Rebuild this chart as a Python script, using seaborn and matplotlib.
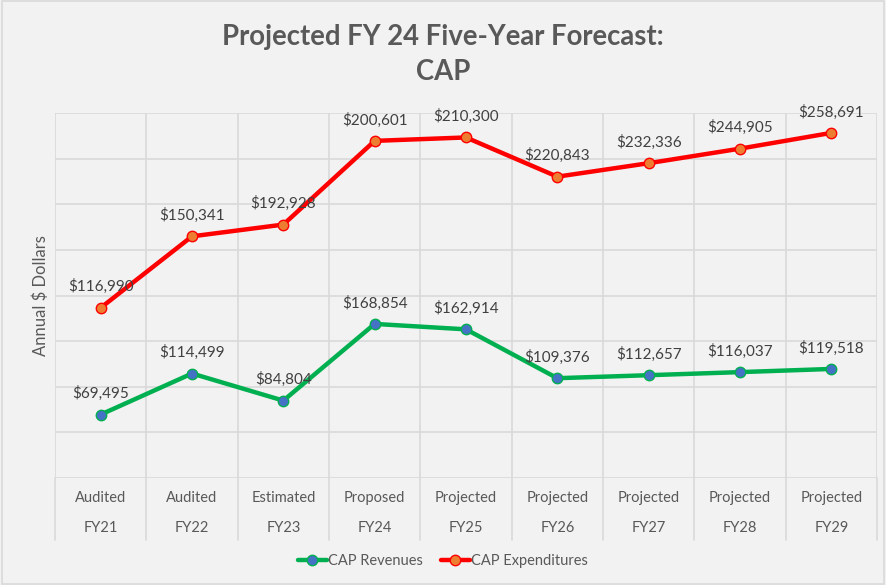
import numpy as np
import pandas as pd
import matplotlib
matplotlib.use("Agg")
import matplotlib.pyplot as plt
import matplotlib.transforms as mtrans
from matplotlib.lines import Line2D
import seaborn as sns

# ---- data ----
stages = ["Audited", "Audited", "Estimated", "Proposed", "Projected",
          "Projected", "Projected", "Projected", "Projected"]
years = ["FY21", "FY22", "FY23", "FY24", "FY25", "FY26", "FY27", "FY28", "FY29"]
revenues = [69495, 114499, 84804, 168854, 162914, 109376, 112657, 116037, 119518]
expenditures = [116990, 150341, 192928, 200601, 210300, 220843, 232336, 244905, 258691]
series_names = ["CAP Revenues", "CAP Expenditures"]

sns.set_theme(style="white")
plt.rcParams["font.family"] = ["Lato", "DejaVu Sans"]

BG = "#F2F2F2"
GRID = "#D9D9D9"
TXT = "#595959"
LBL = "#404040"

fig = plt.figure(figsize=(8.86, 5.85), dpi=100, facecolor=BG)
ax = fig.add_axes([55/886, 1-478/585, (877-55)/886, (478-113)/585])
ax.set_facecolor(BG)

# stacked line chart: expenditures plotted on top of revenues
x = np.arange(len(years))
rev = np.array(revenues, dtype=float)
exp_stacked = rev + np.array(expenditures, dtype=float)
df = pd.DataFrame({
    "x": np.concatenate([x, x]),
    "value": np.concatenate([rev, exp_stacked]),
    "series": [series_names[0]]*len(x) + [series_names[1]]*len(x),
})

line_cols = {series_names[0]: "#00B050", series_names[1]: "#FF0000"}
mark_cols = {series_names[0]: "#4472C4", series_names[1]: "#ED7D31"}
for name in series_names:
    sub = df[df["series"] == name]
    sns.lineplot(data=sub, x="x", y="value", ax=ax, color=line_cols[name],
                 linewidth=3.2, marker="o", markersize=7.5,
                 markerfacecolor=mark_cols[name], markeredgecolor=line_cols[name],
                 markeredgewidth=1.0, legend=False, zorder=3)

ax.set_xlim(-0.5, len(years) - 0.5)
ax.set_ylim(0, 400000)
ax.set_yticks(np.arange(0, 400001, 50000))
ax.set_yticklabels([])
ax.set_xticks(np.arange(-0.5, len(years), 1.0))
ax.set_xticklabels([])
ax.tick_params(length=0)
ax.grid(True, color=GRID, linewidth=1.2)
for s in ax.spines.values():
    s.set_visible(False)
ax.set_xlabel("")
ax.set_ylabel("Annual $ Dollars", color=TXT, fontsize=12, labelpad=0)
ax.yaxis.set_label_coords(-(55-49)/822, 0.5)

# gridlines extending into the category label area
trans = mtrans.blended_transform_factory(ax.transData, ax.transAxes)
for b in np.arange(-0.5, len(years), 1.0):
    ax.plot([b, b], [0, -(540-478)/365], transform=trans, color=GRID,
            linewidth=1.2, clip_on=False)

# category labels (two-level)
for i, (s, yv) in enumerate(zip(stages, years)):
    ax.text(i, -(498-478)/365, s, transform=trans, ha="center", va="center",
            color=TXT, fontsize=10.5)
    ax.text(i, -(528-478)/365, yv, transform=trans, ha="center", va="center",
            color=TXT, fontsize=10.5)

# data labels
for i in x:
    ax.annotate(f"${revenues[i]:,}", (i, rev[i]), xytext=(0, 21),
                textcoords="offset pixels", ha="center", va="center",
                color=LBL, fontsize=11)
    ax.annotate(f"${expenditures[i]:,}", (i, exp_stacked[i]), xytext=(0, 21),
                textcoords="offset pixels", ha="center", va="center",
                color=LBL, fontsize=11)

fig.text(0.5, 1-37/585, "Projected FY 24 Five-Year Forecast:", ha="center",
         va="center", fontsize=19.8, fontweight="bold", color=TXT)
fig.text(0.5, 1-72/585, "CAP", ha="center", va="center", fontsize=19.8,
         fontweight="bold", color=TXT)

handles = [Line2D([0], [0], color=line_cols[n], linewidth=3.2, marker="o",
                  markersize=7.5, markerfacecolor=mark_cols[n],
                  markeredgecolor=line_cols[n]) for n in series_names]
leg = fig.legend(handles, series_names, loc="center", bbox_to_anchor=(0.5, 1-561/585),
                 ncol=2, frameon=False, handlelength=2.0, handletextpad=0.1,
                 columnspacing=1.2, fontsize=10.5)
for t in leg.get_texts():
    t.set_color(TXT)

# figure border
fig.patches.append(plt.Rectangle((0.002, 0.002), 0.996, 0.996, transform=fig.transFigure,
                                 fill=False, edgecolor="#D9D9D9", linewidth=1.2))

fig.savefig("out.png", dpi=100, facecolor=BG)
